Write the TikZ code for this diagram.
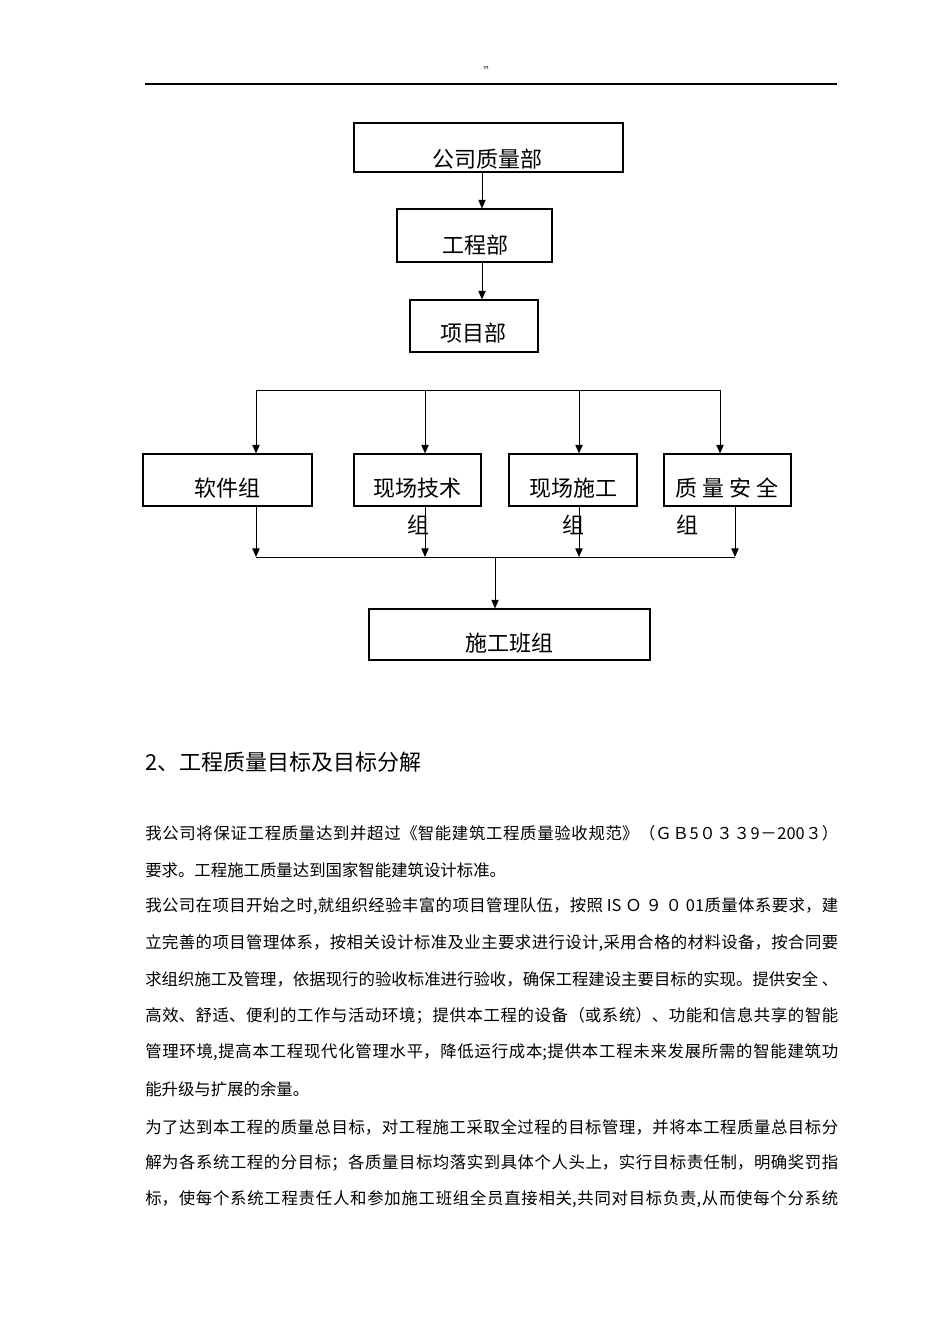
\documentclass[tikz,border=0pt]{standalone}
\usepackage{fontspec}
\setmainfont{Noto Sans CJK SC}
\usetikzlibrary{positioning,fit,arrows.meta}
\XeTeXlinebreaklocale "zh"
\XeTeXlinebreakskip=0pt plus 4pt
\newcommand{\fullline}[1]{\parbox{519.75pt}{\parfillskip=0pt\relax #1}}
\tikzset{
	box/.style={draw=black,line width=0.8pt,inner sep=0pt},
	boxtext/.style={font=\fontsize{16.5}{18}\selectfont,inner sep=0pt},
	link/.style={draw=black,line width=0.75pt},
	arr/.style={link,-{Triangle[width=5.5pt,length=6.5pt]}},
	bodyline/.style={anchor=west,inner sep=0pt,font=\fontsize{12.3}{14}\selectfont},
}

\begin{document}
\begin{tikzpicture}[x=0.75pt,y=-0.75pt]
	\fill[white] (0,0) rectangle (950,1344);
	\useasboundingbox (0,0) rectangle (950,1344);
	% page header
	\node[font=\fontsize{10}{11}\selectfont,text=black!70,inner sep=0pt] (mark) at (490,72) {"};
	\coordinate (hl) at (145,84);
	\coordinate (hr) at (837,84);
	\draw[line width=1.3pt] (hl) -- (hr);
	% chart boxes
	\node[box,fit={(354,123) (623,172)}] (qd) {};
	\node[boxtext] (qdt) at (487,159) {公司质量部};
	\node[box,fit={(397,209) (552,262)}] (gc) {};
	\node[boxtext] (gct) at (475,245) {工程部};
	\node[box,fit={(410,300) (538,352)}] (xm) {};
	\node[boxtext] (xmt) at (473,333) {项目部};
	\node[box,fit={(143,454) (312,506)}] (sw) {};
	\node[boxtext] (swt) at (227,488) {软件组};
	\node[box,fit={(354,454) (481,506)}] (js) {};
	\node[boxtext] (jst) at (417,488) {现场技术};
	\node[boxtext] (jsz) at (418,525) {组};
	\node[box,fit={(509,454) (637,506)}] (sg) {};
	\node[boxtext] (sgt) at (573,488) {现场施工};
	\node[boxtext] (sgz) at (573,525) {组};
	\node[box,fit={(664,454) (791,506)}] (qs) {};
	\node[boxtext] (qst) at (727,488) {质 量 安 全};
	\node[boxtext] (qsz) at (687,525) {组};
	\node[box,fit={(369,609) (650,660)}] (bz) {};
	\node[boxtext] (bzt) at (509,643) {施工班组};
	% connectors
	\coordinate (a1) at (482,0);
	\draw[arr] (qd.south -| a1) -- (gc.north -| a1);
	\draw[arr] (gc.south -| a1) -- (xm.north -| a1);
	\coordinate (t1) at (256,390);
	\coordinate (t2) at (425,390);
	\coordinate (t3) at (579,390);
	\coordinate (t4) at (720,390);
	\draw[link] (t1) -- (t4);
	\foreach \t/\b in {t1/sw,t2/js,t3/sg,t4/qs}
	\draw[arr] (\t) -- (\t |- \b.north);
	\coordinate (u1) at (256,557);
	\coordinate (u2) at (425,557);
	\coordinate (u3) at (579,557);
	\coordinate (u4) at (735,557);
	\foreach \u/\b in {u1/sw,u2/js,u3/sg,u4/qs}
	\draw[arr] (\u |- \b.south) -- (\u);
	\draw[link] (u1) -- (u4);
	\coordinate (u0) at (495,557);
	\draw[arr] (u0) -- (u0 |- bz.north);
	% section text
	\node[anchor=west,inner sep=0pt,font=\fontsize{16.5}{18}\selectfont] (hd) at (145,762) {2、工程质量目标及目标分解};
	\node[bodyline] (l1) at (145,833) {\fullline{我公司将保证工程质量达到并超过《智能建筑工程质量验收规范》（ＧＢ5０３３9－200３）}};
	\node[bodyline] (l2) at (145,870) {要求。工程施工质量达到国家智能建筑设计标准。};
	\node[bodyline] (l3) at (145,906) {\fullline{我公司在项目开始之时,就组织经验丰富的项目管理队伍，按照 IS Ｏ ９ ０ 01质量体系要求，建}};
	\node[bodyline] (l4) at (145,943) {\fullline{立完善的项目管理体系，按相关设计标准及业主要求进行设计,采用合格的材料设备，按合同要}};
	\node[bodyline] (l5) at (145,979) {\fullline{求组织施工及管理，依据现行的验收标准进行验收，确保工程建设主要目标的实现。提供安全 、}};
	\node[bodyline] (l6) at (145,1016) {\fullline{高效、舒适、便利的工作与活动环境；提供本工程的设备（或系统）、功能和信息共享的智能}};
	\node[bodyline] (l7) at (145,1052) {\fullline{管理环境,提高本工程现代化管理水平，降低运行成本;提供本工程未来发展所需的智能建筑功}};
	\node[bodyline] (l8) at (145,1089) {能升级与扩展的余量。};
	\node[bodyline] (l9) at (145,1127) {\fullline{为了达到本工程的质量总目标，对工程施工采取全过程的目标管理，并将本工程质量总目标分}};
	\node[bodyline] (l10) at (145,1163) {\fullline{解为各系统工程的分目标；各质量目标均落实到具体个人头上，实行目标责任制，明确奖罚指}};
	\node[bodyline] (l11) at (145,1199) {\fullline{标，使每个系统工程责任人和参加施工班组全员直接相关,共同对目标负责,从而使每个分系统}};
\end{tikzpicture}
\end{document}
